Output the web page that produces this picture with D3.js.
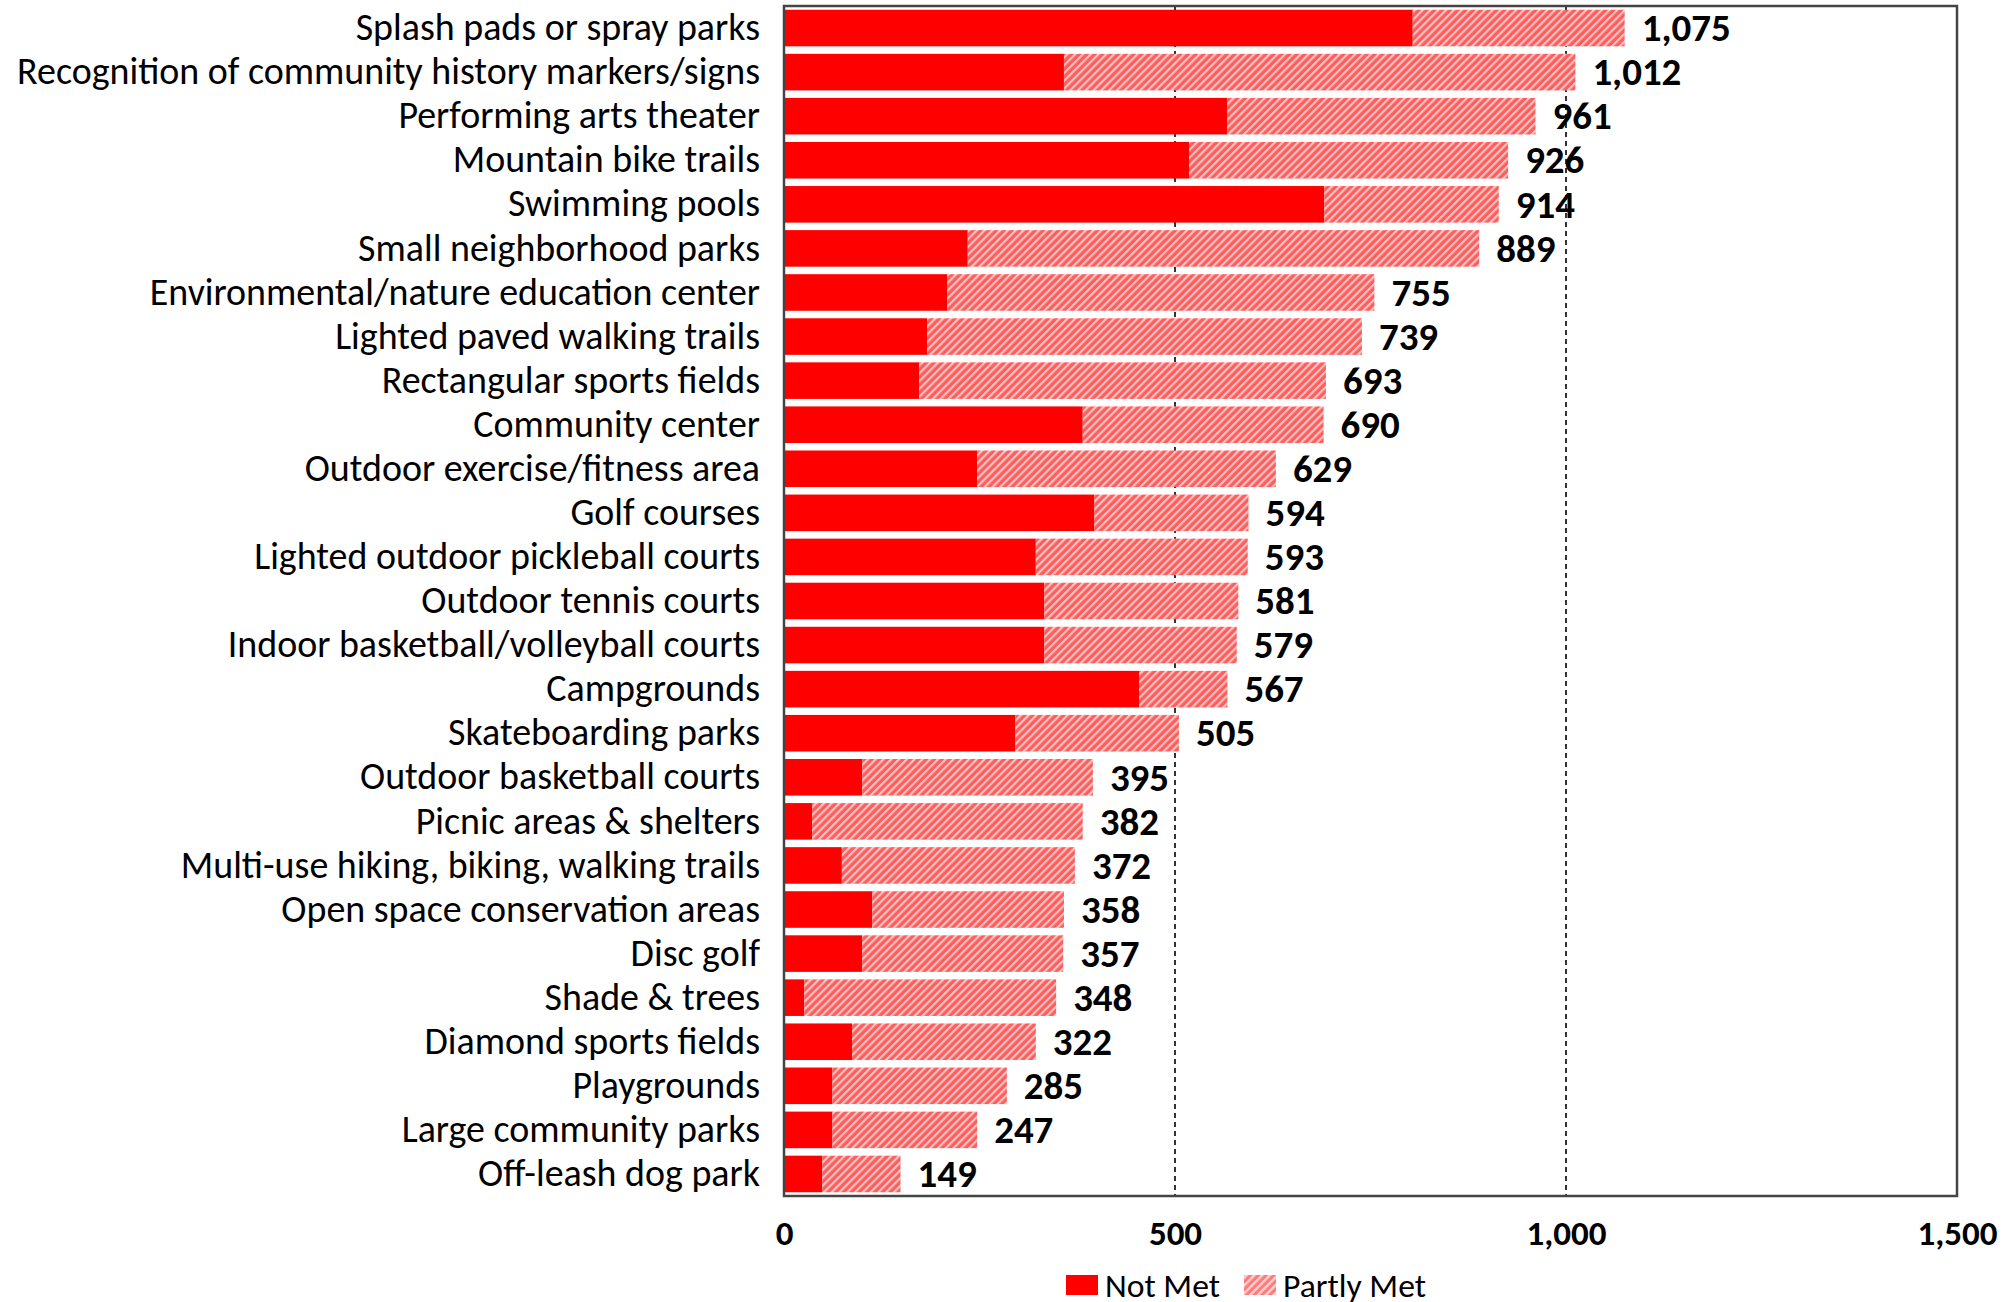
<!DOCTYPE html>
<html><head><meta charset="utf-8">
<script src="https://cdn.jsdelivr.net/npm/d3@7"></script>
<style>body{margin:0;background:#fff;} svg{display:block;}</style>
</head><body>
<svg id="chart" width="2004" height="1302"></svg>
<script>
const categories = ["Splash pads or spray parks","Recognition of community history markers/signs","Performing arts theater","Mountain bike trails","Swimming pools","Small neighborhood parks","Environmental/nature education center","Lighted paved walking trails","Rectangular sports fields","Community center","Outdoor exercise/fitness area","Golf courses","Lighted outdoor pickleball courts","Outdoor tennis courts","Indoor basketball/volleyball courts","Campgrounds","Skateboarding parks","Outdoor basketball courts","Picnic areas & shelters","Multi-use hiking, biking, walking trails","Open space conservation areas","Disc golf","Shade & trees","Diamond sports fields","Playgrounds","Large community parks","Off-leash dog park"];
const totals = [1075,1012,961,926,914,889,755,739,693,690,629,594,593,581,579,567,505,395,382,372,358,357,348,322,285,247,149];
const notMet = [804,358,567,518,691,235,209,183,173,382,247,397,322,333,333,454,296,100,36,74,113,100,26,87,62,62,49];
const partlyMet = totals.map((t,i)=>t-notMet[i]);
const xTicks = [0,500,1000,1500];
const seriesNames = ["Not Met","Partly Met"];

const svg = d3.select("#chart");
const font = "Calibri, Carlito, Lato, sans-serif";
const L = 784, R = 1957, T = 6, B = 1196;
const x = d3.scaleLinear().domain([0,1500]).range([L,R]);
const y = d3.scaleBand().domain(categories).range([T,B]).paddingInner(0.17).paddingOuter(0.085);

const defs = svg.append("defs");
const pat = defs.append("pattern").attr("id","hatch").attr("patternUnits","userSpaceOnUse")
  .attr("width",5.5).attr("height",5.5).attr("patternTransform","rotate(45)");
pat.append("rect").attr("width",5.5).attr("height",5.5).attr("fill","#ff5c5c");
pat.append("rect").attr("width",2.2).attr("height",5.5).attr("fill","#ffc4c4");
const pat2 = defs.append("pattern").attr("id","hatchL").attr("patternUnits","userSpaceOnUse")
  .attr("width",5.5).attr("height",5.5).attr("patternTransform","rotate(45)");
pat2.append("rect").attr("width",5.5).attr("height",5.5).attr("fill","#ff7a7a");
pat2.append("rect").attr("width",2.4).attr("height",5.5).attr("fill","#ffd2d2");

// gridlines
svg.append("g").selectAll("line").data(xTicks.filter(d=>d>0&&d<1500)).join("line")
  .attr("x1",d=>x(d)).attr("x2",d=>x(d)).attr("y1",T).attr("y2",B)
  .attr("stroke","#333").attr("stroke-width",2).attr("stroke-dasharray","5,4");

// bars
const rows = categories.map((c,i)=>({c,nm:notMet[i],pm:partlyMet[i],t:totals[i]}));
svg.append("g").selectAll("rect").data(rows).join("rect")
  .attr("x",x(0)).attr("y",d=>y(d.c)).attr("width",d=>x(d.nm)-x(0)).attr("height",y.bandwidth())
  .attr("fill","#ff0000");
svg.append("g").selectAll("rect").data(rows).join("rect")
  .attr("x",d=>x(d.nm)).attr("y",d=>y(d.c)).attr("width",d=>x(d.t)-x(d.nm)).attr("height",y.bandwidth())
  .attr("fill","url(#hatch)");

// value labels
const fmt = d3.format(",");
const vals = svg.append("g").selectAll("text").data(rows).join("text")
  .attr("x",d=>x(d.t)+17).attr("y",d=>y(d.c)+y.bandwidth()/2).attr("dy","0.34em")
  .attr("font-family",font).attr("font-weight","bold").attr("font-size",34).attr("fill","#000")
  .text(d=>fmt(d.t));

// category labels
const cats = svg.append("g").selectAll("text").data(rows).join("text")
  .attr("x",760).attr("y",d=>y(d.c)+y.bandwidth()/2).attr("dy","0.32em").attr("text-anchor","end")
  .attr("font-family",font).attr("font-size",34).attr("fill","#000")
  .text(d=>d.c);

// fit fonts to reference widths
function fit(sel, sample, target){
  const n = sel.nodes().find(n=>n.textContent===sample);
  const w = n.getComputedTextLength();
  const fs = (+n.getAttribute("font-size"))*target/w;
  sel.attr("font-size",fs);
  return fs;
}
fit(cats,"Recognition of community history markers/signs",743);
fit(vals,"1,075",89);

// border
svg.append("rect").attr("x",L).attr("y",T).attr("width",R-L).attr("height",B-T)
  .attr("fill","none").attr("stroke","#444").attr("stroke-width",2.5);

// x axis
const xAxis = svg.append("g").attr("transform",`translate(0,${B})`)
  .call(d3.axisBottom(x).tickValues(xTicks).tickFormat(fmt).tickSize(0).tickPadding(0));
xAxis.select(".domain").remove();
const tl = xAxis.selectAll("text").attr("y",37).attr("dy","0.34em")
  .attr("font-family",font).attr("font-weight","bold").attr("font-size",34).attr("fill","#000");
fit(tl,"1,500",80);

// legend
const lg = svg.append("g");
const lx = [1066,1244];
lg.selectAll("rect").data(seriesNames).join("rect")
  .attr("x",(d,i)=>lx[i]).attr("y",1275).attr("width",32).attr("height",20)
  .attr("fill",(d,i)=>i===0?"#ff0000":"url(#hatchL)");
const lt = lg.selectAll("text").data(seriesNames).join("text")
  .attr("x",(d,i)=>lx[i]+39).attr("y",1286).attr("dy","0.34em")
  .attr("font-family",font).attr("font-size",32).attr("fill","#000")
  .text(d=>d);
fit(lt,"Not Met",115);
</script>
</body></html>
